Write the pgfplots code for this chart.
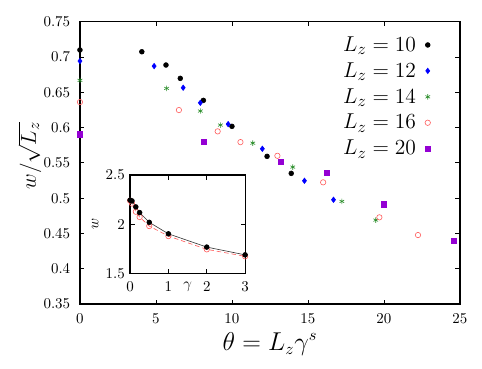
\documentclass[border=0pt]{standalone}
\usepackage{pgfplots}
\pgfplotsset{compat=1.18}
\definecolor{gpblue}{RGB}{0,0,255}
\definecolor{gpgreen}{RGB}{40,140,40}
\definecolor{gpred}{RGB}{255,90,90}
\definecolor{gppurple}{RGB}{148,0,211}
\begin{document}
\begin{tikzpicture}
\useasboundingbox (-53.3bp,-42.7bp) rectangle (268bp,202.7bp);
\begin{axis}[scale only axis,width=253.3bp,height=188.2bp,
  xmin=0,xmax=25,ymin=0.35,ymax=0.75,
  xtick={0,5,...,25},ytick={0.35,0.4,...,0.76},
  tick align=inside,major tick length=3bp,
  axis line style={line width=0.8pt},
  every tick/.style={line width=0.6pt},
  xticklabel style={yshift=-3bp},
  yticklabel style={xshift=-3bp},
  xlabel={\fontsize{16}{19}\selectfont $\theta = L_z\gamma^s$},
  ylabel={\fontsize{15.5}{18}\selectfont $w/\sqrt{L_z}$},
  xlabel style={yshift=1bp},
  ylabel style={yshift=-3bp,xshift=5bp,inner sep=1bp},
  legend style={draw=none,fill=none,at={(0.935,0.97)},anchor=north east,
    font=\fontsize{15}{18}\selectfont,row sep=2bp,
    /tikz/every odd column/.append style={column sep=4bp}},
  legend plot pos=right,legend cell align=right]
\addplot[black,only marks,mark=*,mark size=1.6bp] coordinates {
(0,0.710) (4.07,0.7075) (5.66,0.6887) (6.60,0.6698) (8.12,0.6386) (10.0,0.6018) (12.31,0.5593) (13.9,0.5352)};
\addlegendentry{$L_z = 10$}
\addplot[gpblue,only marks,mark=diamond*,mark size=1.8bp] coordinates {
(0,0.6943) (4.88,0.6872) (6.79,0.6565) (7.92,0.6352) (9.75,0.605) (12.0,0.570) (14.77,0.5247) (16.68,0.4978)};
\addlegendentry{$L_z = 12$}
\addplot[gpgreen,only marks,mark=asterisk,mark size=1.8bp] coordinates {
(0,0.667) (5.70,0.6556) (7.92,0.6235) (9.24,0.6036) (11.37,0.578) (14.0,0.5441) (17.23,0.4955) (19.46,0.469)};
\addlegendentry{$L_z = 14$}
\addplot[gpred,only marks,mark=o,mark size=1.8bp] coordinates {
(0,0.6362) (6.51,0.6249) (9.06,0.5947) (10.56,0.5795) (12.99,0.5601) (16.0,0.5225) (19.70,0.4729) (22.24,0.4478)};
\addlegendentry{$L_z = 16$}
\addplot[gppurple,only marks,mark=square*,mark size=1.7bp] coordinates {
(0,0.5905) (8.14,0.58) (13.2,0.5512) (16.24,0.5366) (20.0,0.4913) (24.62,0.4397)};
\addlegendentry{$L_z = 20$}
\end{axis}
\begin{axis}[scale only axis,width=76.7bp,height=65.5bp,
  at={(33.4bp,20.5bp)},anchor=south west,
  xmin=0,xmax=3,ymin=1.5,ymax=2.5,
  xtick={0,1,2,3},ytick={1.5,2,2.5},
  tick align=inside,major tick length=3bp,
  axis line style={line width=0.8pt},
  every tick/.style={line width=0.6pt},
  axis background/.style={fill=white},
  xticklabel style={yshift=-2bp},
  xlabel={$\gamma$},
  xlabel style={at={(axis description cs:0.5,0)},anchor=north,yshift=-2bp},
  ylabel={$w$},ylabel style={yshift=-2bp}]
\addplot[gpred,densely dashed,mark=o,mark size=1.8bp,mark options={solid}] coordinates {
(0,2.24) (0.05,2.21) (0.15,2.127) (0.25,2.073) (0.5,1.981) (1,1.879) (2,1.744) (3,1.673)};
\addplot[black!80,mark=*,mark size=1.6bp,mark options={black}] coordinates {
(0,2.245) (0.05,2.237) (0.15,2.176) (0.25,2.118) (0.5,2.019) (1,1.902) (2,1.767) (3,1.688)};
\end{axis}
\end{tikzpicture}
\end{document}
